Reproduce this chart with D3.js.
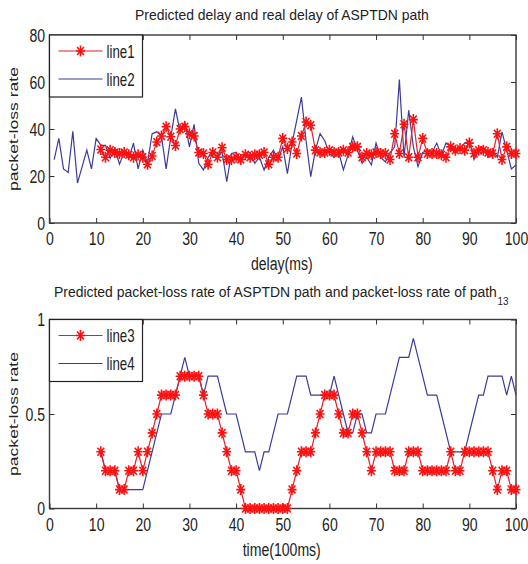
<!DOCTYPE html>
<html>
<head>
<meta charset="utf-8">
<script src="https://cdn.jsdelivr.net/npm/d3@7"></script>
<style>
  body { margin: 0; background: #fff; }
  svg { display: block; }
  text { font-family: "Liberation Sans", Arial, sans-serif; fill: #222; }
  .tick text { font-size: 19px; }
  .tick line { stroke: #333; }
</style>
</head>
<body>
<svg class="chart" width="528" height="564"></svg>
<script>
// top panel: delay
const delayXTicks = [0, 10, 20, 30, 40, 50, 60, 70, 80, 90, 100];
const delayYTicks = [0, 20, 40, 60, 80];
const realDelayStart = 1;
const realDelay = [
  27, 36, 23, 21.5, 39, 17, 24, 31, 23, 36,
  33, 33, 27.5, 31.7, 25, 30, 27.5, 34, 23, 31,
  25.4, 38, 38.8, 37, 23, 36.7, 48.6, 38.8, 43, 32.4,
  42, 25.4, 22.6, 28, 31, 29.6, 30, 17.6, 29.6, 30,
  27, 29.6, 30, 25.4, 28, 22.6, 28, 31, 27, 32.4,
  21, 34, 43.7, 53.6, 35, 19.7, 31, 38, 35, 29.6,
  28, 30, 22.6, 29, 36.7, 31, 25.4, 28, 24.7, 34,
  28, 26, 30, 32.4, 61, 28, 48, 32.4, 24, 30,
  31, 30, 34, 29, 34, 32.4, 29.6, 31.7, 34, 35,
  27, 31, 32.4, 28, 31, 28, 38.8, 31, 23, 24.7
];
const predictedDelayStart = 11;
const predictedDelay = [
  31.3, 28, 31, 30, 29.6, 30, 29, 28, 29, 28,
  25, 28.5, 34.5, 37, 41, 36.7, 33, 40, 41, 38,
  37, 30, 29.6, 25, 30, 28, 32, 27, 27, 28,
  27, 29, 28, 29, 29, 30, 25, 28, 28, 36,
  31.7, 34.5, 29.6, 37, 43, 41.6, 31, 30, 30, 31,
  30, 30, 31, 30, 32.4, 32.4, 28, 29.6, 29, 30,
  29.6, 29.6, 27, 38, 29.6, 42, 28, 44, 28, 36,
  29.6, 29.6, 29.6, 29, 28, 32.4, 31, 31.7, 31, 34,
  29.6, 31, 31, 30, 29.6, 38, 27, 32.4, 29.6, 29.6
];

// bottom panel: packet-loss rate
const lossXTicks = [0, 10, 20, 30, 40, 50, 60, 70, 80, 90, 100];
const lossYTicks = [0, 0.5, 1];
const predictedLossStart = 11;
const predictedLoss = [
  0.3, 0.2, 0.2, 0.2, 0.1, 0.1, 0.2, 0.2, 0.3, 0.2,
  0.3, 0.4, 0.5, 0.6, 0.6, 0.6, 0.6, 0.7, 0.7, 0.7,
  0.7, 0.7, 0.6, 0.5, 0.5, 0.5, 0.4, 0.3, 0.2, 0.2,
  0.1, 0, 0, 0, 0, 0, 0, 0, 0, 0,
  0, 0.1, 0.2, 0.3, 0.3, 0.3, 0.4, 0.5, 0.6, 0.6,
  0.6, 0.5, 0.4, 0.4, 0.5, 0.5, 0.4, 0.3, 0.2, 0.3,
  0.3, 0.3, 0.3, 0.2, 0.2, 0.2, 0.3, 0.3, 0.3, 0.2,
  0.2, 0.2, 0.2, 0.2, 0.2, 0.3, 0.2, 0.2, 0.3, 0.3,
  0.3, 0.3, 0.3, 0.3, 0.2, 0.1, 0.2, 0.2, 0.1, 0.1
];
const pathLossStart = 11;
const pathLoss = [
  0.3, 0.2, 0.2, 0.2, 0.1, 0.1, 0.1, 0.1, 0.1, 0.1,
  0.2, 0.3, 0.4, 0.5, 0.5, 0.5, 0.6, 0.7, 0.8, 0.7,
  0.7, 0.7, 0.6, 0.7, 0.7, 0.7, 0.6, 0.5, 0.5, 0.5,
  0.4, 0.3, 0.3, 0.3, 0.2, 0.3, 0.3, 0.4, 0.5, 0.5,
  0.5, 0.6, 0.7, 0.7, 0.7, 0.6, 0.6, 0.6, 0.6, 0.6,
  0.7, 0.6, 0.5, 0.4, 0.4, 0.5, 0.5, 0.4, 0.4, 0.5,
  0.5, 0.5, 0.6, 0.7, 0.8, 0.8, 0.8, 0.9, 0.8, 0.7,
  0.6, 0.6, 0.6, 0.5, 0.4, 0.3, 0.3, 0.3, 0.3, 0.4,
  0.5, 0.6, 0.6, 0.7, 0.7, 0.7, 0.7, 0.6, 0.7, 0.6
];

const svg = d3.select(".chart");
const squeeze = "scale(0.74, 1)"; // the source figure is stretched vertically
const redLine = "#e0202a";
const redStar = "#ff1010";
const blueLine = "#3b3b9c";
const starPath = "M-4.5,0H4.5M0,-5.5V5.5M-3.4,-4L3.4,4M-3.4,4L3.4,-4";

const toPoints = (values, start) => values.map((v, i) => ({ x: start + i, y: v }));

// horizontal text squeezed like the source picture
const narrowText = (parent, x, y, size, str, anchor) =>
  parent.append("g")
    .attr("transform", `translate(${x}, ${y})`)
    .append("text")
    .attr("transform", squeeze)
    .attr("text-anchor", anchor || "middle")
    .style("font-size", size + "px")
    .text(str);

// text squeezed to a measured width
const fitText = (x, y, size, width, str) => {
  const t = svg.append("g")
    .attr("transform", `translate(${x}, ${y})`)
    .append("text")
    .style("font-size", size + "px")
    .text(str);
  const w = t.node().getComputedTextLength();
  t.attr("transform", `scale(${width / w}, 1)`);
  return t;
};

const drawPanel = opts => {
  const { top, bottom, yDomain, yTicks, xTicks, series, xLabel, yFormat, legend } = opts;
  const left = 49.5, right = 516;

  const xScale = d3.scaleLinear().domain([0, 100]).range([left, right]);
  const yScale = d3.scaleLinear().domain(yDomain).range([bottom, top]);

  const g = svg.append("g");

  g.append("rect")
    .attr("x", left)
    .attr("y", top)
    .attr("width", right - left)
    .attr("height", bottom - top)
    .attr("fill", "#fff")
    .attr("stroke", "#3a3a3a")
    .attr("stroke-width", 1.4);

  const xAxis = d3.axisBottom(xScale).tickValues(xTicks).tickSizeInner(-5).tickSizeOuter(0).tickPadding(9);
  const yAxis = d3.axisLeft(yScale).tickValues(yTicks).tickSizeInner(-5).tickSizeOuter(0).tickPadding(6).tickFormat(yFormat);

  g.append("g")
    .attr("transform", `translate(0, ${bottom})`)
    .call(xAxis)
    .call(a => a.select(".domain").remove())
    .selectAll(".tick text")
    .attr("transform", squeeze);

  g.append("g")
    .attr("transform", `translate(${left}, 0)`)
    .call(yAxis)
    .call(a => a.select(".domain").remove())
    .selectAll(".tick text")
    .attr("transform", squeeze);

  // mirrored ticks on top and right
  g.append("g")
    .attr("transform", `translate(0, ${top})`)
    .call(d3.axisTop(xScale).tickValues(xTicks).tickSizeInner(-5).tickSizeOuter(0).tickFormat(""))
    .select(".domain").remove();

  g.append("g")
    .attr("transform", `translate(${right}, 0)`)
    .call(d3.axisRight(yScale).tickValues(yTicks).tickSizeInner(-5).tickSizeOuter(0).tickFormat(""))
    .select(".domain").remove();

  const line = d3.line().x(d => xScale(d.x)).y(d => yScale(d.y));

  g.append("path")
    .datum(series.blue)
    .attr("fill", "none")
    .attr("stroke", blueLine)
    .attr("stroke-width", 1.2)
    .attr("d", line);

  g.append("path")
    .datum(series.red)
    .attr("fill", "none")
    .attr("stroke", redLine)
    .attr("stroke-width", 1.2)
    .attr("d", line);

  g.selectAll(".star")
    .data(series.red)
    .enter()
    .append("path")
    .attr("class", "star")
    .attr("transform", d => `translate(${xScale(d.x)}, ${yScale(d.y)})`)
    .attr("d", starPath)
    .attr("stroke", redStar)
    .attr("stroke-width", 1.6)
    .attr("fill", "none");

  narrowText(svg, (left + right) / 2 - 1, xLabel.y, 19, xLabel.text);

  svg.append("text")
    .attr("transform", `translate(18, ${(top + bottom) / 2}) rotate(-90) scale(1.35, 1)`)
    .attr("text-anchor", "middle")
    .style("font-size", "13px")
    .text("packet-loss rate");

  // legend
  const lg = g.append("g").attr("transform", `translate(${left}, ${top})`);
  lg.append("rect")
    .attr("x", 0)
    .attr("y", 0)
    .attr("width", 93)
    .attr("height", 62)
    .attr("fill", "#fff")
    .attr("stroke", "#222")
    .attr("stroke-width", 1.2);

  legend.forEach((item, i) => {
    const ly = 16 + i * 28;
    lg.append("line")
      .attr("x1", 9)
      .attr("x2", 53)
      .attr("y1", ly)
      .attr("y2", ly)
      .attr("stroke", item.red ? redLine : blueLine)
      .attr("stroke-width", 1.2);
    if (item.red) {
      lg.append("path")
        .attr("transform", `translate(31, ${ly})`)
        .attr("d", starPath)
        .attr("stroke", redStar)
        .attr("stroke-width", 1.6);
    }
    narrowText(lg, 57, ly + 6.5, 18, item.label, "start");
  });
};

drawPanel({
  top: 35,
  bottom: 223,
  yDomain: [0, 80],
  yTicks: delayYTicks,
  xTicks: delayXTicks,
  yFormat: d3.format("d"),
  series: {
    red: toPoints(predictedDelay, predictedDelayStart),
    blue: toPoints(realDelay, realDelayStart)
  },
  xLabel: { text: "delay(ms)", y: 270 },
  legend: [{ label: "line1", red: true }, { label: "line2", red: false }]
});

drawPanel({
  top: 319.5,
  bottom: 508.5,
  yDomain: [0, 1],
  yTicks: lossYTicks,
  xTicks: lossXTicks,
  yFormat: d => (d === 0.5 ? "0.5" : d3.format("d")(d)),
  series: {
    red: toPoints(predictedLoss, predictedLossStart),
    blue: toPoints(pathLoss, pathLossStart)
  },
  xLabel: { text: "time(100ms)", y: 556 },
  legend: [{ label: "line3", red: true }, { label: "line4", red: false }]
});

// titles
fitText(135, 19.5, 14, 294, "Predicted delay and real delay of ASPTDN path");
fitText(54, 296.5, 15, 443, "Predicted packet-loss rate of ASPTDN path and packet-loss rate of path");
fitText(497.5, 305, 10, 11, "13");
</script>
</body>
</html>
